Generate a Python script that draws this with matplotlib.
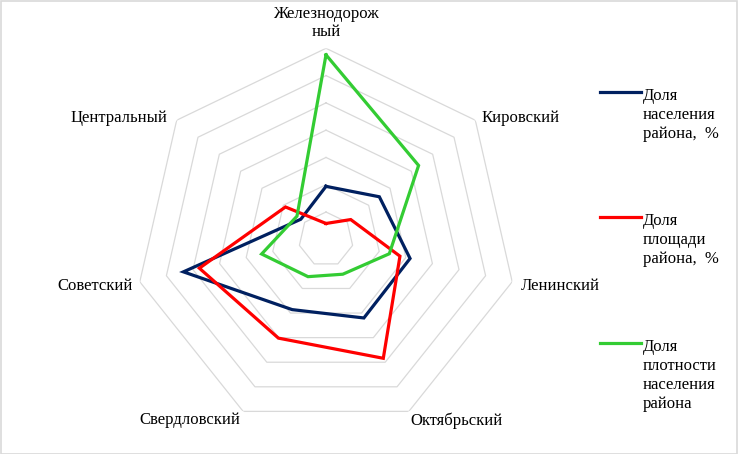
import numpy as np
import matplotlib
matplotlib.use("Agg")
import matplotlib.pyplot as plt
from matplotlib.lines import Line2D
from matplotlib.patches import Rectangle

categories = ["Железнодорож\nный", "Кировский", "Ленинский", "Октябрьский",
              "Свердловский", "Советский", "Центральный"]
population_share = [9.7, 12.5, 15.8, 16.0, 14.3, 26.8, 5.9]
area_share = [2.9, 5.8, 13.9, 24.2, 20.1, 23.8, 9.5]
density_share = [33.8, 21.7, 11.9, 7.1, 7.6, 12.1, 6.8]
series_names = ["Доля\nнаселения\nрайона,  %", "Доля\nплощади\nрайона,  %",
                "Доля\nплотности\nнаселения\nрайона"]
grid_levels = [5, 10, 15, 20, 25, 30, 35]

colors = ["#002060", "#FF0000", "#33CC33"]
font = ["Liberation Serif", "DejaVu Serif"]
plt.rcParams["font.family"] = font
FS = 12

W, H = 738, 454
fig = plt.figure(figsize=(W / 100, H / 100), dpi=100)
cx, cy, R = 326, 239.3, 191
ax = fig.add_axes([(cx - R) / W, (H - cy - R) / H, 2 * R / W, 2 * R / H], projection="polar")
ax.set_theta_offset(np.pi / 2)
ax.set_theta_direction(-1)
ax.set_ylim(0, grid_levels[-1])
ax.grid(False)
ax.spines["polar"].set_visible(False)
ax.set_xticks([])
ax.set_yticks([])
ax.patch.set_visible(False)

n = len(categories)
angles = np.linspace(0, 2 * np.pi, n, endpoint=False)
ang_c = np.append(angles, angles[0])

for lv in grid_levels:
    ax.plot(ang_c, [lv] * (n + 1), color="#D9D9D9", lw=0.9, zorder=1)

for vals, col in zip([population_share, area_share, density_share], colors):
    v = np.append(vals, vals[0])
    ax.plot(ang_c, v, color=col, lw=2.3, zorder=3, solid_joinstyle="miter")

offsets = [(0, 8, "center", "bottom"), (6, 2, "left", "center"), (9, -4, "left", "center"),
           (2, -9, "left", "center"), (-3, -9, "right", "center"), (-7, -4, "right", "center"),
           (-9, 2, "right", "center")]
for a, lab, (dx, dy, ha, va) in zip(angles, categories, offsets):
    ax.annotate(lab, xy=(a, grid_levels[-1]), xytext=(dx, dy), textcoords="offset pixels",
                ha=ha, va=va, fontsize=FS, color="#000000", linespacing=1.15,
                annotation_clip=False)

# legend
leg_y = [92, 217, 343]
for y, col, name in zip(leg_y, colors, series_names):
    fig.add_artist(Line2D([600 / W, 641 / W], [1 - y / H, 1 - y / H], color=col, lw=2.3,
                          transform=fig.transFigure))
    fig.text(643 / W, 1 - (y - 4) / H, name, ha="left", va="top", fontsize=FS,
             linespacing=1.25, color="#000000")

fig.add_artist(Rectangle((0.5 / W, 0.5 / H), 1 - 1.5 / W, 1 - 1.5 / H, transform=fig.transFigure,
                         fill=False, edgecolor="#D9D9D9", lw=1.2))

fig.savefig("out.png", dpi=100, facecolor="white")
